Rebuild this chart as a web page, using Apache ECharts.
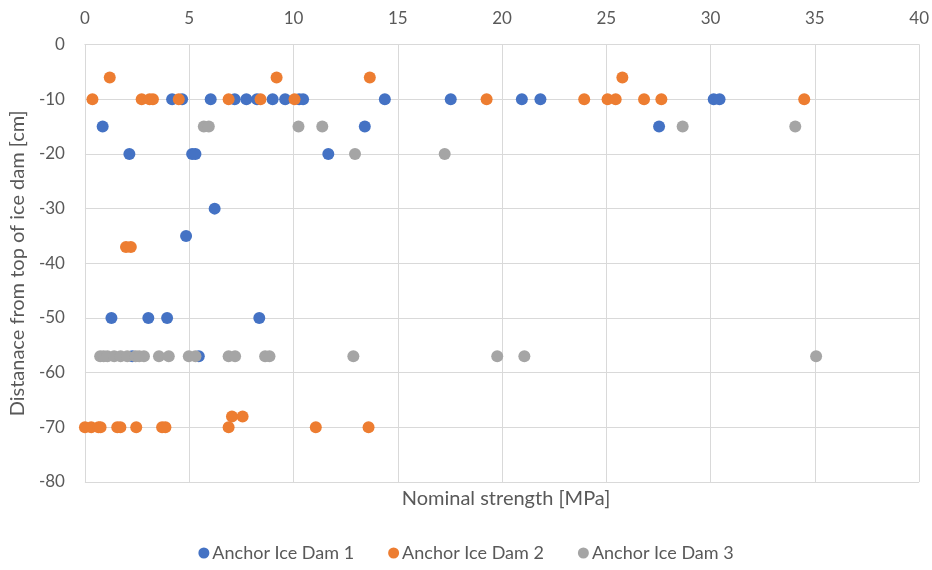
<!DOCTYPE html>
<html>
<head>
<meta charset="utf-8">
<script src="https://cdn.jsdelivr.net/npm/echarts@6/dist/echarts.min.js"></script>
<style>
  html, body { margin: 0; padding: 0; background: #fff; }
  #chart { width: 932px; height: 570px; }
</style>
</head>
<body>
<div id="chart"></div>
<script>
// Anchor ice dam measurements: [nominal strength (MPa), depth (cm)]
const dam1 = [
  [0.85, -15], [2.13, -20], [4.18, -10], [4.66, -10], [6.03, -10], [5.14, -20], [5.30, -20],
  [7.18, -10], [7.74, -10], [8.25, -10], [9.0, -10], [9.6, -10], [10.27, -10], [10.46, -10],
  [11.67, -20], [13.42, -15], [14.38, -10], [17.54, -10], [20.95, -10], [21.84, -10],
  [27.53, -15], [30.15, -10], [30.43, -10], [4.85, -35], [6.22, -30],
  [1.27, -50], [3.04, -50], [3.94, -50], [8.36, -50], [2.27, -57], [5.46, -57]
];
const dam2 = [
  [0.36, -10], [1.19, -6], [2.72, -10], [3.10, -10], [3.26, -10], [4.50, -10], [6.89, -10],
  [8.42, -10], [9.19, -6], [10.05, -10], [13.66, -6], [19.26, -10], [23.94, -10],
  [25.06, -10], [25.45, -10], [25.77, -6], [26.81, -10], [27.64, -10], [34.49, -10],
  [1.97, -37], [2.20, -37],
  [0.0, -70], [0.30, -70], [0.65, -70], [0.75, -70], [1.55, -70], [1.70, -70], [2.46, -70],
  [3.70, -70], [3.86, -70], [6.89, -70], [7.05, -68], [7.56, -68], [11.07, -70], [13.60, -70]
];
const dam3 = [
  [5.70, -15], [5.94, -15], [10.24, -15], [11.38, -15], [12.95, -20], [17.25, -20],
  [28.66, -15], [34.06, -15],
  [0.73, -57], [0.90, -57], [1.08, -57], [1.40, -57], [1.71, -57], [2.03, -57], [2.43, -57],
  [2.60, -57], [2.83, -57], [3.55, -57], [4.02, -57], [4.98, -57], [5.30, -57], [6.89, -57],
  [7.20, -57], [8.64, -57], [8.85, -57], [12.87, -57], [19.77, -57], [21.07, -57], [35.06, -57]
];
const seriesNames = ['Anchor Ice Dam 1', 'Anchor Ice Dam 2', 'Anchor Ice Dam 3'];
const seriesColors = ['#4472C4', '#ED7D31', '#A5A5A5'];
const xTitle = 'Nominal strength [MPa]';
const yTitle = 'Distanace from top of ice dam [cm]';

const FONT = 'Lato';
const TXT = '#595959';
const GRID = '#D9D9D9';

const chart = echarts.init(document.getElementById('chart'), null, { renderer: 'canvas' });
chart.setOption({
  animation: false,
  backgroundColor: '#fff',
  textStyle: { fontFamily: FONT },
  grid: { left: 82.5, top: 44.6, right: 12.7, bottom: 88 },
  title: {
    text: xTitle,
    left: 501, top: 484, textAlign: 'center',
    textStyle: { fontFamily: FONT, fontSize: 20, fontWeight: 'normal', color: TXT }
  },
  legend: {
    bottom: 3, left: 'center',
    icon: 'circle', itemWidth: 11, itemHeight: 11, itemGap: 34,
    textStyle: { fontFamily: FONT, fontSize: 18, color: TXT, padding: [0, 0, 0, -2] },
    data: seriesNames
  },
  xAxis: {
    type: 'value', position: 'top', min: 0, max: 40, interval: 5,
    axisLine: { show: true, lineStyle: { color: GRID } },
    axisTick: { show: false },
    axisLabel: { color: TXT, fontSize: 17, fontFamily: FONT, margin: 18 },
    splitLine: { show: true, lineStyle: { color: GRID, width: 1 } }
  },
  yAxis: {
    type: 'value', min: -80, max: 0, interval: 10,
    name: yTitle, nameLocation: 'middle', nameGap: 54, nameRotate: 90,
    nameTextStyle: { fontFamily: FONT, fontSize: 20, color: TXT },
    axisLine: { show: true, lineStyle: { color: GRID } },
    axisTick: { show: false },
    axisLabel: { color: TXT, fontSize: 17, fontFamily: FONT, margin: 20 },
    splitLine: { show: true, lineStyle: { color: GRID, width: 1 } }
  },
  series: [dam1, dam2, dam3].map((d, i) => ({
    name: seriesNames[i],
    type: 'scatter',
    data: d,
    symbol: 'circle',
    symbolSize: 12,
    itemStyle: { color: seriesColors[i], opacity: 1 }
  }))
});
</script>
</body>
</html>
